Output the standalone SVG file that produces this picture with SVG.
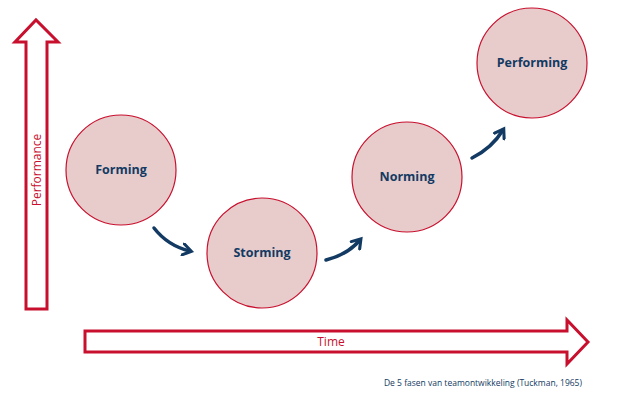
<svg xmlns="http://www.w3.org/2000/svg" width="620" height="401" viewBox="0 0 620 401">
<defs>
<style>
.ax{fill:#fff;stroke:#c8102e;stroke-width:3}
.n{fill:#e8cccc;stroke:#c8102e;stroke-width:1.2}
.t{font-family:"Open Sans",sans-serif;font-weight:bold;font-size:12.5px;fill:#123a63;text-anchor:middle}
.al{font-family:"Open Sans",sans-serif;font-size:12px;fill:#c8102e}
.c{fill:none;stroke:#123a63;stroke-width:3.5;stroke-linecap:round}
</style>
<marker id="h" viewBox="0 0 10 10" refX="6" refY="5" markerWidth="4" markerHeight="4" orient="auto" markerUnits="strokeWidth">
<path d="M1,1 L7,5 L1,9" fill="none" stroke="#123a63" stroke-width="2.2" stroke-linecap="round"/>
</marker>
</defs>
<rect width="620" height="401" fill="#fff"/>
<g id="yaxis">
<path class="ax" d="M26,309 L26,42 L15,42 L36,20 L58,42 L47,42 L47,309 Z"/>
<text class="al" transform="translate(41,170) rotate(-90)" text-anchor="middle">Performance</text>
</g>
<g id="xaxis">
<path class="ax" d="M85,331 L567,331 L567,320 L588,342 L567,364 L567,352 L85,352 Z"/>
<text class="al" x="331" y="346" text-anchor="middle">Time</text>
</g>
<g id="forming"><circle class="n" cx="121" cy="170" r="55"/><text class="t" x="121" y="174">Forming</text></g>
<g id="storming"><circle class="n" cx="262" cy="253" r="55"/><text class="t" x="262" y="257">Storming</text></g>
<g id="norming"><circle class="n" cx="407" cy="177" r="55"/><text class="t" x="407" y="181">Norming</text></g>
<g id="performing"><circle class="n" cx="532" cy="63" r="55"/><text class="t" x="532" y="67">Performing</text></g>
<g id="connectors">
<path class="c" marker-end="url(#h)" d="M154,228 Q168,246 190,251"/>
<path class="c" marker-end="url(#h)" d="M326,260 Q347,255 360,240"/>
<path class="c" marker-end="url(#h)" d="M472,158 Q492,148 503,130"/>
</g>
<text x="582" y="386" text-anchor="end" style="font-family:'Open Sans',sans-serif;font-size:8.5px;fill:#123a63">De 5 fasen van teamontwikkeling (Tuckman, 1965)</text>
</svg>
